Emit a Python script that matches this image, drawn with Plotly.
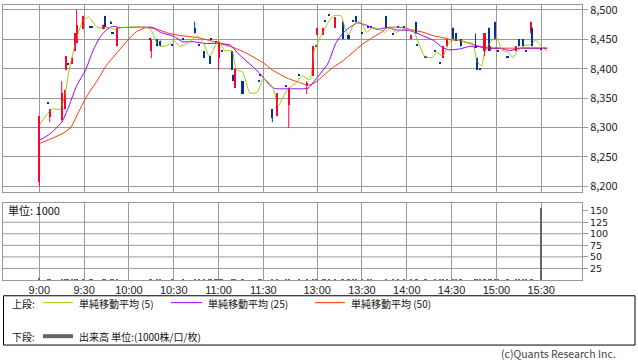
import plotly.graph_objects as go

# ---------------- data ----------------
c_time = ["9:00", "9:06", "9:07", "9:15", "9:17", "9:18", "9:19", "9:22", "9:24", "9:25",
          "9:29", "9:34", "9:35", "9:43", "9:44", "9:48", "9:49", "9:52", "10:14", "10:15",
          "10:19", "10:21", "10:29", "10:36", "10:44", "10:47", "10:50", "10:54", "10:55", "10:58",
          "11:00", "11:02", "11:09", "11:10", "11:11", "11:16", "11:27", "11:28", "12:30", "12:33",
          "12:39", "12:41", "12:48", "12:53", "12:57", "12:59", "13:00", "13:04", "13:05", "13:08",
          "13:12", "13:17", "13:21", "13:24", "13:26", "13:30", "13:34", "13:36", "13:46", "13:51",
          "13:54", "13:58", "14:03", "14:06", "14:07", "14:12", "14:13", "14:19", "14:22", "14:24",
          "14:27", "14:31", "14:33", "14:36", "14:46", "14:47", "14:49", "14:52", "14:55", "14:56",
          "14:59", "15:01", "15:07", "15:08", "15:13", "15:15", "15:18", "15:20", "15:23", "15:24",
          "15:30"]
c_open = [8208, 8341, 8318, 8312, 8331, 8398, 8408, 8408, 8430, 8443,
          8468, 8470, 8470, 8467, 8490, 8480, 8460, 8438, 8450, 8430,
          8450, 8448, 8440, 8450, 8470, 8440, 8430, 8421, 8450, 8445,
          8418, 8430, 8430, 8390, 8368, 8379, 8379, 8388, 8331, 8319,
          8369, 8339, 8389, 8372, 8388, 8438, 8458, 8458, 8480, 8490,
          8470, 8480, 8458, 8480, 8490, 8460, 8470, 8470, 8490, 8458,
          8470, 8470, 8450, 8480, 8440, 8419, 8419, 8430, 8409, 8419,
          8438, 8470, 8460, 8450, 8437, 8419, 8398, 8430, 8470, 8430,
          8480, 8430, 8419, 8419, 8430, 8450, 8450, 8430, 8460, 8470,
          8433]
c_high = [8320, 8341, 8331, 8379, 8364, 8421, 8408, 8419, 8460, 8500,
          8490, 8470, 8470, 8475, 8490, 8481, 8460, 8470, 8450, 8450,
          8450, 8448, 8440, 8450, 8480, 8440, 8430, 8421, 8450, 8445,
          8446, 8430, 8430, 8390, 8400, 8379, 8379, 8388, 8331, 8359,
          8369, 8368, 8389, 8379, 8438, 8438, 8470, 8470, 8480, 8490,
          8488, 8480, 8458, 8480, 8490, 8460, 8470, 8470, 8490, 8458,
          8470, 8470, 8458, 8480, 8440, 8419, 8419, 8430, 8409, 8438,
          8450, 8470, 8460, 8450, 8460, 8419, 8398, 8460, 8470, 8438,
          8480, 8430, 8419, 8419, 8438, 8450, 8450, 8430, 8480, 8470,
          8433]
c_low = [8200, 8341, 8309, 8312, 8331, 8398, 8408, 8408, 8430, 8443,
         8468, 8470, 8470, 8467, 8471, 8477, 8460, 8438, 8450, 8418,
         8438, 8438, 8440, 8450, 8460, 8440, 8418, 8408, 8450, 8445,
         8398, 8430, 8398, 8379, 8368, 8357, 8379, 8388, 8309, 8319,
         8369, 8299, 8389, 8357, 8388, 8438, 8458, 8458, 8480, 8490,
         8470, 8450, 8450, 8480, 8480, 8460, 8470, 8470, 8470, 8458,
         8470, 8470, 8450, 8460, 8440, 8419, 8419, 8430, 8409, 8419,
         8438, 8450, 8448, 8438, 8435, 8398, 8398, 8421, 8430, 8430,
         8450, 8430, 8419, 8419, 8430, 8438, 8438, 8430, 8460, 8438,
         8433]
c_close = [8320, 8341, 8331, 8359, 8364, 8421, 8408, 8419, 8460, 8475,
           8490, 8470, 8470, 8475, 8471, 8477, 8460, 8470, 8450, 8450,
           8438, 8438, 8440, 8450, 8460, 8440, 8418, 8408, 8450, 8445,
           8446, 8430, 8398, 8380, 8400, 8357, 8379, 8388, 8317, 8359,
           8369, 8368, 8389, 8375, 8438, 8438, 8470, 8470, 8480, 8490,
           8488, 8450, 8450, 8480, 8480, 8460, 8470, 8470, 8470, 8458,
           8470, 8470, 8458, 8460, 8440, 8419, 8419, 8430, 8409, 8438,
           8450, 8450, 8448, 8438, 8436, 8398, 8398, 8460, 8430, 8438,
           8450, 8430, 8419, 8419, 8438, 8438, 8438, 8430, 8480, 8438,
           8433]
c_vol = [4, 0.7, 0.7, 0.8, 0.7, 0.7, 0.6, 0.7, 0.8, 0.9,
         0.8, 0.6, 0.6, 0.7, 0.7, 0.6, 0.6, 0.7, 0.6, 0.7,
         0.6, 0.6, 0.6, 0.6, 0.7, 0.6, 0.6, 0.6, 0.6, 0.6,
         0.8, 0.6, 0.7, 0.6, 0.7, 0.6, 0.6, 0.6, 0.8, 0.7,
         0.6, 2, 0.6, 0.6, 0.8, 0.6, 0.7, 0.7, 0.6, 0.6,
         0.7, 0.7, 0.6, 0.6, 0.6, 0.6, 0.6, 0.6, 0.7, 0.6,
         0.6, 0.6, 0.6, 0.6, 0.6, 0.6, 0.6, 0.6, 0.6, 0.6,
         0.6, 0.7, 0.6, 0.6, 0.6, 0.7, 0.6, 0.7, 0.7, 0.6,
         3, 2, 0.6, 0.6, 0.6, 0.6, 0.6, 0.6, 0.7, 0.7,
         157]

ma5_t = ["9:00", "9:05", "9:09", "9:14", "9:17", "9:20", "9:23", "9:26", "9:29", "9:33",
         "9:39", "9:47", "9:52", "9:55", "10:12", "10:15", "10:19", "10:22", "10:26", "10:30",
         "10:34", "10:39", "10:46", "10:50", "10:54", "11:00", "11:04", "11:09", "11:12", "11:16",
         "11:21", "11:26", "11:30", "12:30", "12:34", "12:37", "12:41", "12:46", "12:50", "12:55",
         "12:58", "13:02", "13:07", "13:11", "13:16", "13:19", "13:21", "13:25", "13:29", "13:33",
         "13:37", "13:42", "13:45", "13:49", "13:53", "13:57", "14:04", "14:12", "14:17", "14:20",
         "14:24", "14:28", "14:31", "14:38", "14:44", "14:47", "14:50", "14:52", "14:56", "15:00",
         "15:04", "15:08", "15:11", "15:14", "15:19", "15:22", "15:26", "15:28", "15:31", "15:34"]
ma5_v = [8304, 8322, 8332, 8331, 8354, 8398, 8431, 8460, 8480, 8488,
         8470, 8470, 8466, 8470, 8470, 8465, 8443, 8438, 8440, 8448,
         8438, 8443, 8456, 8443, 8421, 8448, 8431, 8430, 8398, 8395,
         8359, 8360, 8383, 8370, 8337, 8351, 8367, 8376, 8388, 8381,
         8431, 8453, 8477, 8490, 8490, 8466, 8458, 8477, 8480, 8462,
         8470, 8467, 8462, 8470, 8462, 8467, 8465, 8421, 8419, 8428,
         8421, 8443, 8451, 8446, 8443, 8413, 8405, 8426, 8446, 8453,
         8431, 8428, 8419, 8430, 8440, 8440, 8448, 8445, 8435, 8430]

ma25_t = ["9:00", "9:07", "9:15", "9:19", "9:25", "9:31", "9:36", "9:41", "9:45", "9:49",
          "9:54", "10:16", "10:21", "10:30", "10:36", "10:43", "10:51", "10:59", "11:08", "11:13",
          "11:21", "11:28", "11:30", "12:30", "12:33", "12:42", "12:50", "12:54", "13:00", "13:07",
          "13:13", "13:19", "13:24", "13:27", "13:33", "13:40", "13:47", "13:53", "14:02", "14:09",
          "14:18", "14:24", "14:29", "14:36", "14:42", "14:47", "14:54", "15:02", "15:09", "15:16",
          "15:22", "15:34"]
ma25_v = [8278, 8289, 8309, 8331, 8371, 8398, 8431, 8455, 8466, 8472,
          8470, 8470, 8462, 8455, 8446, 8446, 8443, 8443, 8440, 8426,
          8408, 8391, 8385, 8368, 8366, 8366, 8366, 8367, 8385, 8408,
          8446, 8465, 8474, 8478, 8474, 8467, 8470, 8466, 8465, 8458,
          8448, 8436, 8432, 8434, 8438, 8438, 8435, 8435, 8431, 8435,
          8435, 8435]

ma50_t = ["9:00", "9:07", "9:15", "9:21", "9:26", "9:32", "9:39", "9:45", "9:53", "9:59",
          "10:05", "10:12", "10:19", "10:27", "10:36", "10:46", "10:54", "11:01", "11:10", "11:19",
          "11:28", "11:30", "12:30", "12:40", "12:49", "12:54", "12:59", "13:04", "13:11", "13:17",
          "13:24", "13:30", "13:37", "13:43", "13:47", "13:57", "14:04", "14:11", "14:18", "14:24",
          "14:30", "14:36", "14:42", "14:49", "14:56", "15:04", "15:13", "15:22", "15:34"]
ma50_v = [8273, 8280, 8289, 8300, 8325, 8354, 8381, 8406, 8430, 8448,
          8463, 8470, 8467, 8460, 8456, 8453, 8448, 8443, 8436, 8426,
          8413, 8410, 8398, 8384, 8376, 8372, 8377, 8388, 8403, 8413,
          8428, 8441, 8453, 8462, 8470, 8470, 8466, 8462, 8456, 8453,
          8449, 8448, 8443, 8438, 8435, 8435, 8435, 8435, 8435]

tick_times = ["9:00", "9:30", "10:00", "10:30", "11:00", "11:30",
              "13:00", "13:30", "14:00", "14:30", "15:00", "15:30"]
price_ticks = [8200, 8250, 8300, 8350, 8400, 8450, 8500]
vol_ticks = [25, 50, 75, 100, 125, 150]


# ---------------- helpers ----------------
def slot(t):
    h, m = map(int, t.split(":"))
    mins = h * 60 + m
    if mins <= 11 * 60 + 30:
        return mins - 9 * 60
    return mins - (12 * 60 + 30) + 156


FONT = "Noto Sans CJK JP, Noto Sans, sans-serif"
RED = "#ff0033"
BLUE = "#003399"
GRID = "#999999"

W, H = 638, 362
L, R, T, B = 3, 582, 1, 280  # plot area in pixels


def PX(px):
    return (px - L) / (R - L)


def PY(py):
    return (B - py) / (B - T)


xs = [slot(t) for t in c_time]
up = [c > o for o, c in zip(c_open, c_close)]
colors = [RED if u else BLUE for u in up]
base = [min(o, c) for o, c in zip(c_open, c_close)]
height = [max(abs(c - o), 2.0) for o, c in zip(c_open, c_close)]

fig = go.Figure()

# moving averages
for tt, vv, col in [(ma50_t, ma50_v, "#ff3300"), (ma25_t, ma25_v, "#9900ff"), (ma5_t, ma5_v, "#99cc00")]:
    fig.add_trace(go.Scatter(x=[slot(t) for t in tt], y=vv, mode="lines",
                             line=dict(color=col, width=1, shape="spline", smoothing=0.6),
                             hoverinfo="skip", showlegend=False, xaxis="x", yaxis="y"))

# wicks
for want, col in [(True, RED), (False, BLUE)]:
    wx, wy = [], []
    for x, hi, lo, u in zip(xs, c_high, c_low, up):
        if u == want and hi > lo:
            wx += [x, x, None]
            wy += [lo, hi, None]
    fig.add_trace(go.Scatter(x=wx, y=wy, mode="lines", line=dict(color=col, width=1),
                             hoverinfo="skip", showlegend=False, xaxis="x", yaxis="y"))

# bodies
fig.add_trace(go.Bar(x=xs, y=height, base=base, width=1.4, marker=dict(color=colors, line=dict(width=0)),
                     showlegend=False, xaxis="x", yaxis="y"))

# volume
fig.add_trace(go.Bar(x=xs, y=c_vol, width=1.5, marker=dict(color="#666666", line=dict(width=0)),
                     showlegend=False, xaxis="x2", yaxis="y2"))

xr = [-24.3, 363.3]
tv = [slot(t) for t in tick_times]
top_dom = [PY(190.3), 1.0]
bot_dom = [0.0, PY(201.7)]

axis_common = dict(showline=True, mirror=True, linecolor=GRID, linewidth=1, zeroline=False,
                   gridcolor=GRID, gridwidth=1)

fig.update_layout(
    width=W, height=H, autosize=False,
    margin=dict(l=L, r=W - R, t=T, b=H - B, pad=0),
    paper_bgcolor="white", plot_bgcolor="white",
    bargap=0, barmode="overlay",
    font=dict(family=FONT, size=11, color="#222222"),
    xaxis=dict(domain=[0, 1], range=xr, anchor="y", tickvals=tv, showticklabels=False,
               ticks="", showgrid=True, **axis_common),
    yaxis=dict(domain=top_dom, range=[8191.1, 8508.4], side="right", anchor="x",
               tickvals=price_ticks, ticktext=[f"{v:,}" for v in price_ticks],
               ticks="outside", ticklen=5, tickcolor=GRID, showgrid=True,
               ticklabeloverflow="allow", **axis_common),
    xaxis2=dict(domain=[0, 1], range=xr, anchor="y2", tickvals=tv, ticktext=tick_times,
                tickfont=dict(family="Liberation Sans", size=11),
                ticks="", showgrid=True, **axis_common),
    yaxis2=dict(domain=bot_dom, range=[0, 167], side="right", anchor="x2",
                tickvals=vol_ticks, ticktext=[str(v) for v in vol_ticks],
                tickfont=dict(family="DejaVu Sans", size=9.5),
                ticks="outside", ticklen=5, tickcolor=GRID, showgrid=False,
                showline=True, mirror=True, linecolor=GRID, linewidth=1, zeroline=False),
)

shapes = []
# volume horizontal gridlines (no gridline at the top tick)
for v in vol_ticks[:-1]:
    shapes.append(dict(type="line", xref="x2 domain", yref="y2", x0=0, x1=1, y0=v, y1=v,
                       line=dict(color=GRID, width=1), layer="below"))

# legend box
shapes.append(dict(type="rect", xref="paper", yref="paper", x0=PX(3.5), x1=PX(635), y0=PY(346),
                   y1=PY(296), line=dict(color="black", width=1), fillcolor="rgba(0,0,0,0)"))
for (x0, x1, y, col, w) in [(43, 73, 303, "#99cc00", 1), (171, 202, 303, "#9900ff", 1),
                            (315, 345, 303, "#ff3300", 1), (43, 73, 337, "#666666", 4)]:
    shapes.append(dict(type="line", xref="paper", yref="paper", x0=PX(x0), x1=PX(x1),
                       y0=PY(y), y1=PY(y), line=dict(color=col, width=w)))
fig.update_layout(shapes=shapes)

annotations = []
for (x, y, txt, sz) in [(11, 303.5, "上段:", 10), (78, 303.5, "単純移動平均 (5)", 10),
                        (207, 303.5, "単純移動平均 (25)", 10), (350, 303.5, "単純移動平均 (50)", 10),
                        (11, 337, "下段:", 10), (78, 337, "出来高 単位:(1000株/口/枚)", 10),
                        (7, 209, "単位: 1000", 11)]:
    annotations.append(dict(xref="paper", yref="paper", x=PX(x), y=PY(y), text=txt, showarrow=False,
                            xanchor="left", yanchor="middle", borderpad=0,
                            font=dict(family=FONT, size=sz, color="#111111")))
annotations.append(dict(xref="paper", yref="paper", x=PX(617), y=PY(355), text="(c)Quants Research Inc.",
                        showarrow=False, xanchor="right", yanchor="middle", borderpad=0,
                        font=dict(family=FONT, size=10.5, color="#444444")))
fig.update_layout(annotations=annotations)

fig.write_html("out.html")
